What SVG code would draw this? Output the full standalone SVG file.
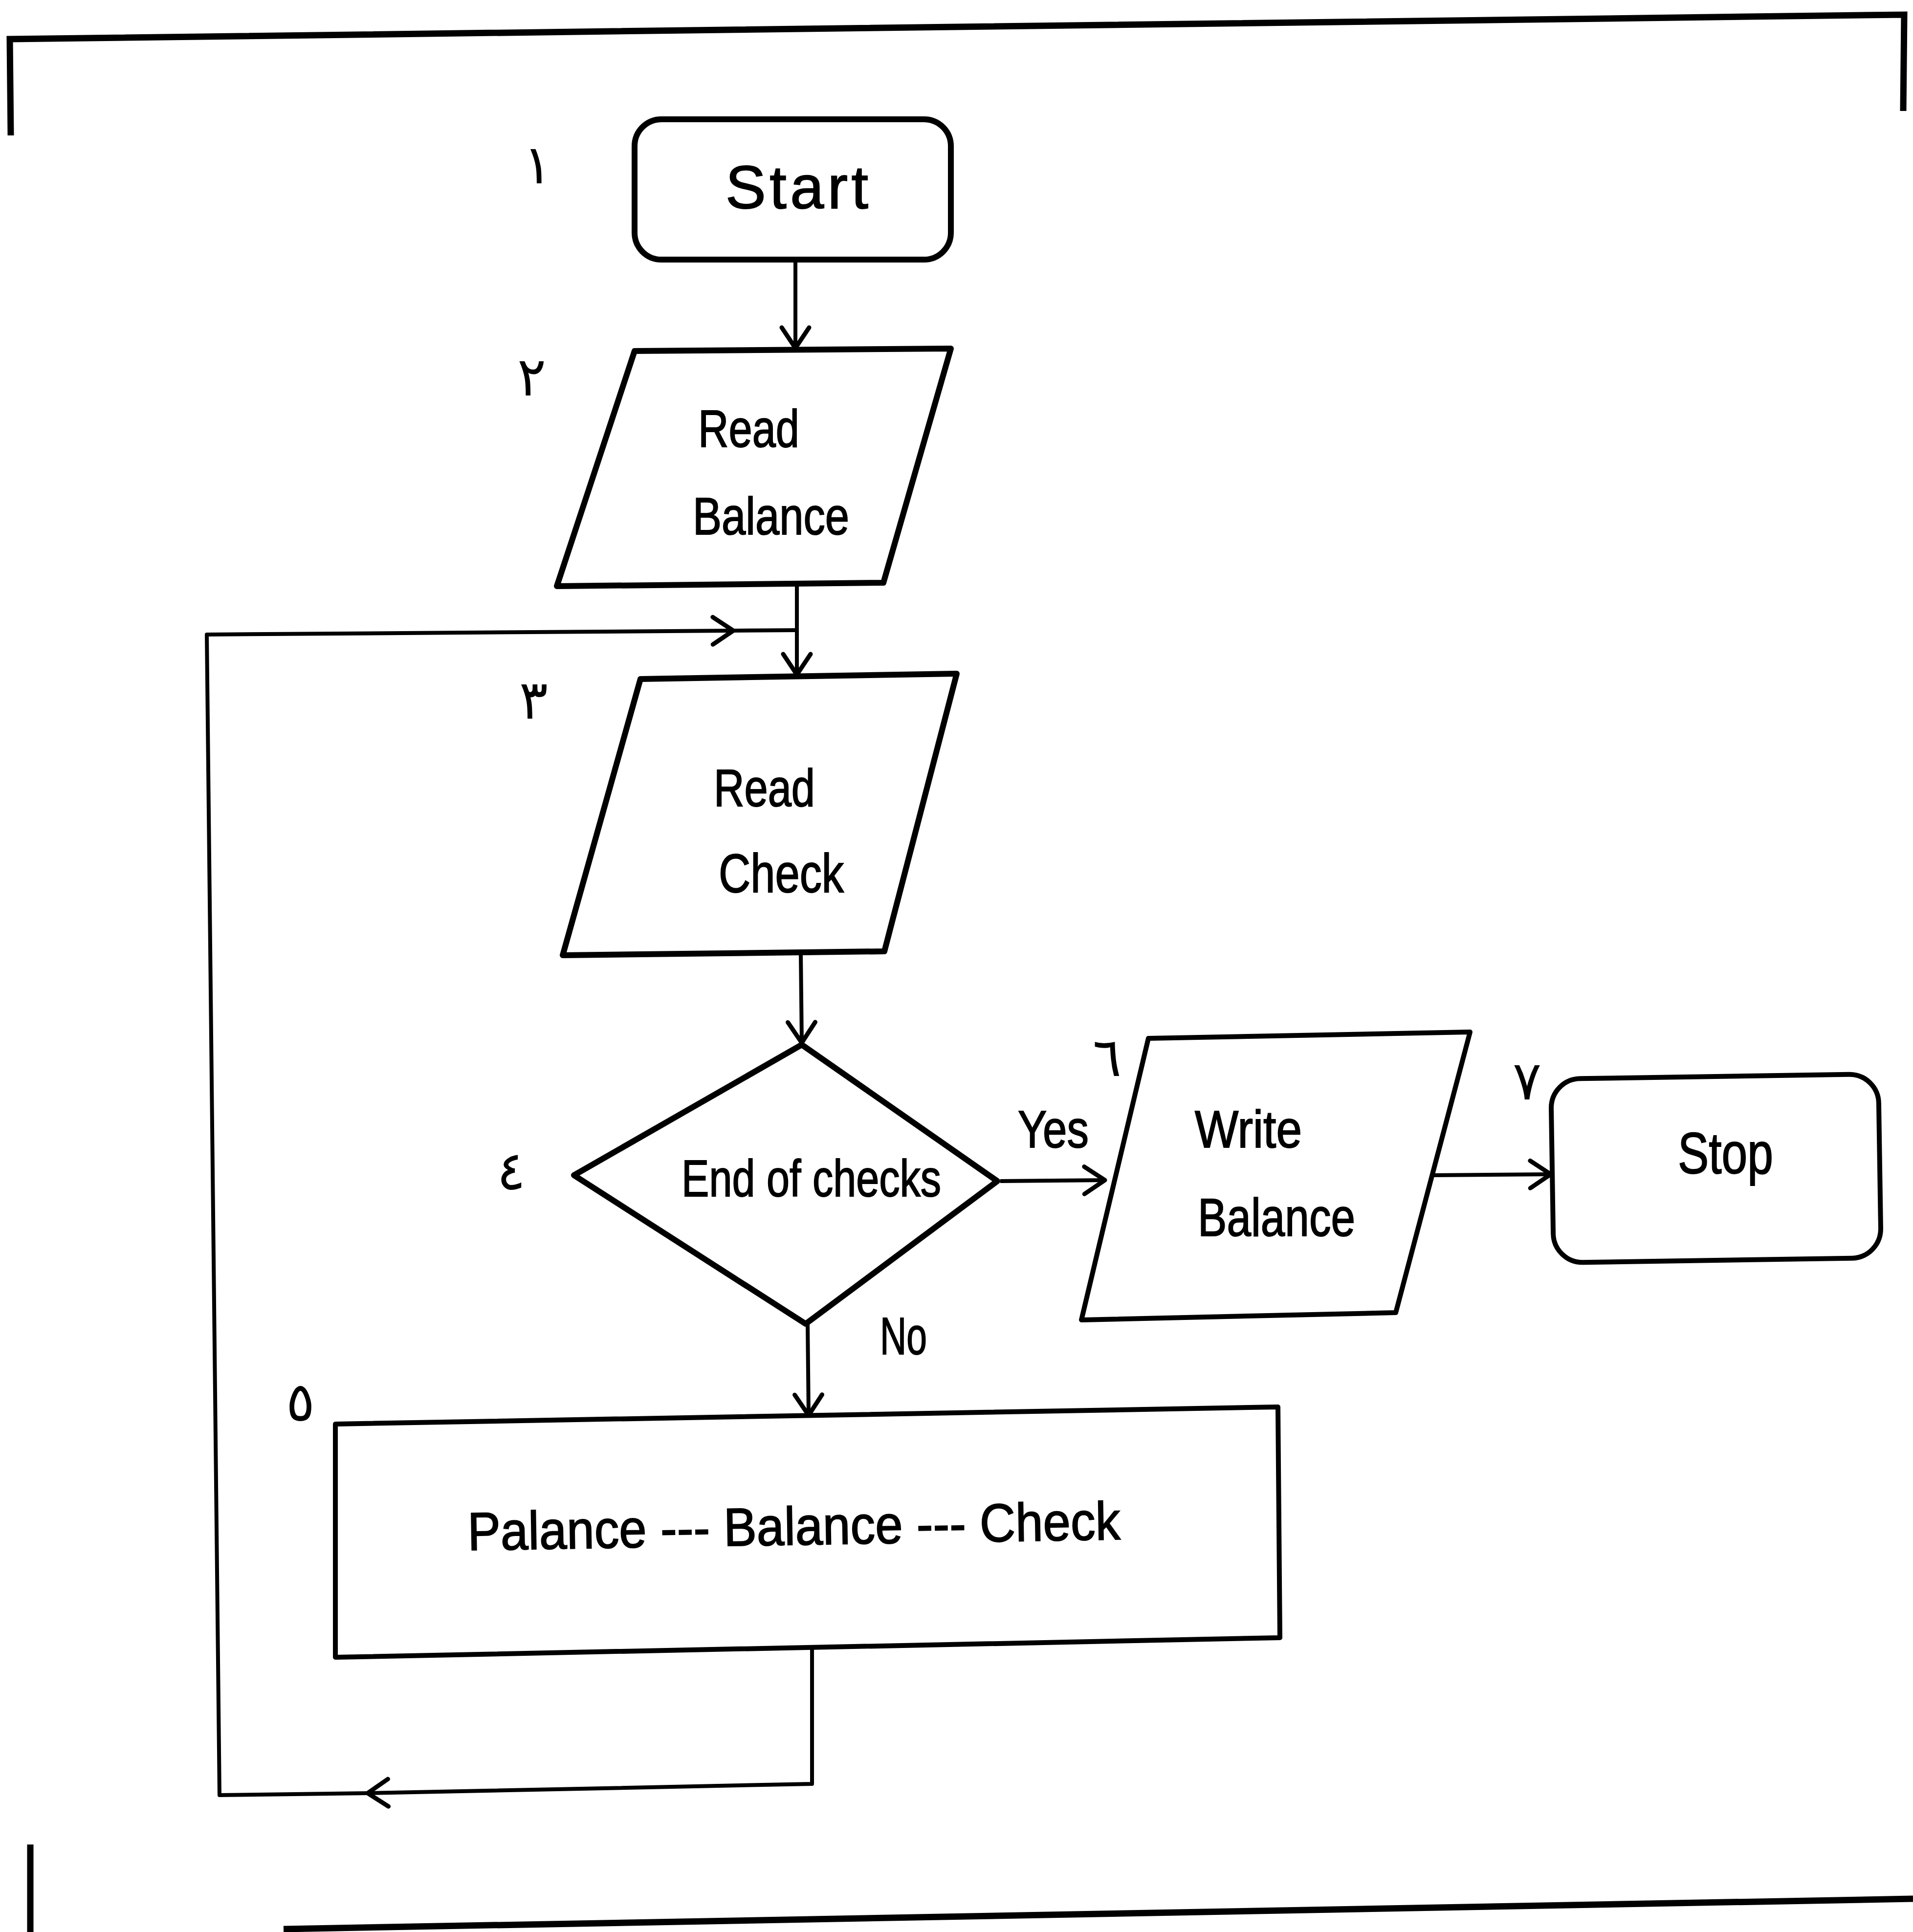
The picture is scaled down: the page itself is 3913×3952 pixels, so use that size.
<svg xmlns="http://www.w3.org/2000/svg" width="3913" height="3952" viewBox="0 0 3913 3952">
<style>
.shape{fill:none;stroke:#000;stroke-width:12;stroke-linejoin:round}
.thin{fill:none;stroke:#000;stroke-width:10;stroke-linejoin:round}
.conn{fill:none;stroke:#000;stroke-width:8;stroke-linejoin:round}
.frame{fill:none;stroke:#000;stroke-width:13}
.t{font-family:"Liberation Sans",Arial,sans-serif;fill:#000;stroke:#000;stroke-width:2}
.ar{font-family:"DejaVu Sans","Noto Sans",sans-serif;fill:#000;font-size:110px}
</style>
<defs>
<marker id="arr" viewBox="-60 -40 70 80" markerWidth="70" markerHeight="80" refX="0" refY="0" orient="auto" markerUnits="userSpaceOnUse">
<path d="M-42,-28 L0,0 L-42,28" fill="none" stroke="#000" stroke-width="9" stroke-linecap="round" stroke-linejoin="round"/>
</marker>
</defs>
<rect width="3913" height="3952" fill="#fff"/>
<g id="frame">
<path class="frame" d="M22,277 L20,80 L3895,30 L3893,227"/>
<path class="frame" d="M62,3773 L62,3952"/>
<path class="frame" d="M580,3946 L3913,3884"/>
</g>
<g id="connectors">
<path class="conn" d="M1627,531 L1627,712" marker-end="url(#arr)"/>
<path class="conn" d="M1630,1196 L1630,1380" marker-end="url(#arr)"/>
<path class="conn" d="M1638,1950 L1640,2133" marker-end="url(#arr)"/>
<path class="conn" d="M2046,2416 L2260,2414" marker-end="url(#arr)"/>
<path class="conn" d="M2932,2404 L3172,2402" marker-end="url(#arr)"/>
<path class="conn" d="M1652,2709 L1654,2895" marker-end="url(#arr)"/>
<path class="conn" d="M1661,3370 L1661,3649 L752,3668"  marker-end="url(#arr)"/>
<path class="conn" d="M752,3668 L449,3672 L423,1298 L1500,1290" marker-end="url(#arr)"/>
<path class="conn" d="M1500,1290 L1630,1289"/>
</g>
<g id="n1-start">
<rect class="shape" x="1298" y="244" width="647" height="287" rx="55" ry="55"/>
<text class="t" x="1484" y="426" font-size="124" textLength="292" lengthAdjust="spacing">Start</text>
<text class="ar" x="1070" y="375">١</text>
</g>
<g id="n2-read-balance">
<polygon class="shape" points="1298,718 1945,713 1807,1192 1139,1199"/>
<text class="t" x="1428" y="914" font-size="108" textLength="207" lengthAdjust="spacingAndGlyphs">Read</text>
<text class="t" x="1417" y="1093" font-size="108" textLength="320" lengthAdjust="spacingAndGlyphs">Balance</text>
<text class="ar" x="1058" y="809">٢</text>
</g>
<g id="n3-read-check">
<polygon class="shape" points="1310,1389 1957,1378 1809,1946 1151,1954"/>
<text class="t" x="1460" y="1649" font-size="108" textLength="207" lengthAdjust="spacingAndGlyphs">Read</text>
<text class="t" x="1470" y="1825" font-size="112" textLength="256" lengthAdjust="spacingAndGlyphs">Check</text>
<text class="ar" x="1062" y="1470">٣</text>
</g>
<g id="n4-decision">
<polygon class="shape" points="1640,2137 2040,2416 1648,2708 1174,2404"/>
<text class="t" x="1394" y="2447" font-size="106" textLength="531" lengthAdjust="spacingAndGlyphs">End of checks</text>
<text class="t" x="2082" y="2347" font-size="108" textLength="145" lengthAdjust="spacingAndGlyphs">Yes</text>
<text class="t" x="1800" y="2770" font-size="108" textLength="96" lengthAdjust="spacingAndGlyphs">No</text>
<text class="ar" x="1016" y="2433">٤</text>
</g>
<g id="n5-process">
<polygon class="thin" points="686,2913 2614,2878 2618,3350 686,3390"/>
<text class="t" x="957" y="3171" font-size="110" textLength="1335" lengthAdjust="spacingAndGlyphs" transform="rotate(-0.95 957 3171)">Palance --- Balance --- Check</text>
<text class="ar" x="585" y="2906" font-size="80">٥</text>
</g>
<g id="n6-write-balance">
<polygon class="thin" points="2349,2124 3007,2111 2855,2685 2212,2700"/>
<text class="t" x="2444" y="2347" font-size="108" textLength="219" lengthAdjust="spacingAndGlyphs">Write</text>
<text class="t" x="2450" y="2528" font-size="110" textLength="322" lengthAdjust="spacingAndGlyphs">Balance</text>
<text class="ar" x="2235" y="2201">٦</text>
</g>
<g id="n7-stop">
<rect class="thin" x="3175" y="2202" width="670" height="376" rx="60" ry="60" transform="rotate(-0.9 3510 2390)"/>
<text class="t" x="3432" y="2400" font-size="118" textLength="195" lengthAdjust="spacingAndGlyphs">Stop</text>
<text class="ar" x="3094" y="2249">٧</text>
</g>
</svg>
